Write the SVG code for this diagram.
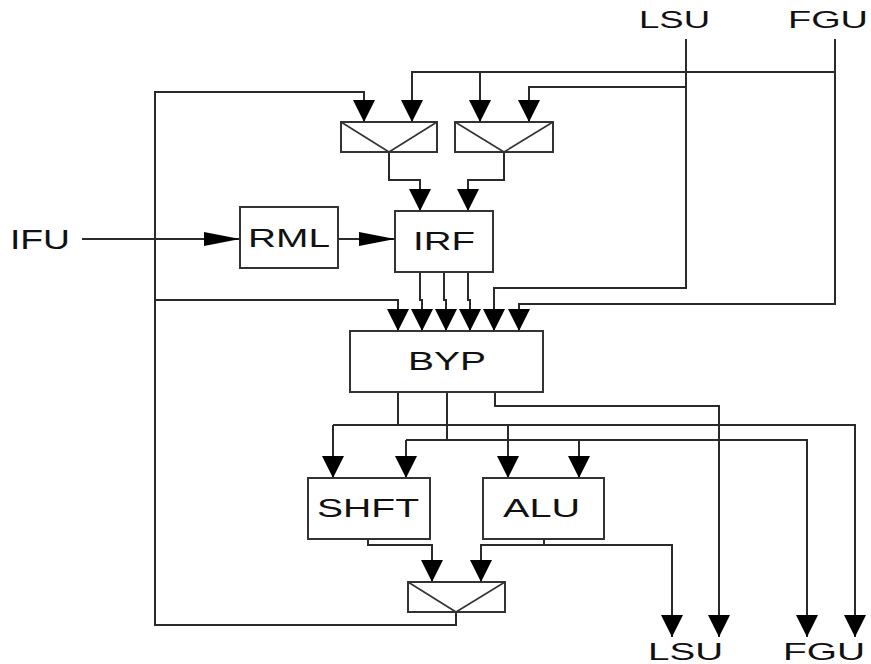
<svg xmlns="http://www.w3.org/2000/svg" width="871" height="664" viewBox="0 0 871 664">
<style>
.box{fill:#fff;stroke:#333;stroke-width:2}
.mx{fill:none;stroke:#333;stroke-width:1.6}
.ln{fill:none;stroke:#2a2a2a;stroke-width:2;stroke-linejoin:miter}
.va{marker-end:url(#v)}
.ha{marker-end:url(#h)}
.t{font-family:"Liberation Sans",Arial,sans-serif;fill:#111}
</style>
<defs>
<marker id="v" markerUnits="userSpaceOnUse" markerWidth="22" markerHeight="22" refX="22" refY="11" orient="auto" viewBox="0 0 22 22"><path d="M0,0 L22,11 L0,22 z" fill="#000"/></marker>
<marker id="h" markerUnits="userSpaceOnUse" markerWidth="36" markerHeight="14" refX="36" refY="7" orient="auto" viewBox="0 0 36 14"><path d="M0,0 L36,7 L0,14 z" fill="#000"/></marker>
</defs>
<rect width="871" height="664" fill="#fff"/>
<g id="connectors">
<path class="ln" d="M456,612 V625 H155 V92 H364 V122" style="marker-end:url(#v)"/>
<path class="ln va" d="M155,300 H398 V331"/>
<path class="ln va" d="M835,39 V304 H519 V331"/>
<path class="ln va" d="M835,72 H412 V122"/>
<path class="ln va" d="M480,72 V122"/>
<path class="ln va" d="M686,39 V288 H494 V331"/>
<path class="ln va" d="M686,87 H529 V122"/>
<path class="ln va" d="M389,152 V180 H420 V211"/>
<path class="ln va" d="M504,152 V180 H468 V211"/>
<path class="ln ha" d="M82,239 H240"/>
<path class="ln ha" d="M338,239 H395"/>
<path class="ln va" d="M420,272 V300 H422 V331"/>
<path class="ln va" d="M444,272 V300 H446 V331"/>
<path class="ln va" d="M468,272 V300 H470 V331"/>
<path class="ln" d="M398,392 V425"/>
<path class="ln va" d="M333,425 H855 V637"/>
<path class="ln va" d="M333,425 V478"/>
<path class="ln va" d="M508,425 V478"/>
<path class="ln" d="M447,392 V440"/>
<path class="ln va" d="M406,440 H807 V637"/>
<path class="ln va" d="M406,440 V478"/>
<path class="ln va" d="M579,440 V478"/>
<path class="ln va" d="M495,392 V406 H719 V637"/>
<path class="ln va" d="M368,539 V545 H432 V582"/>
<path class="ln va" d="M544,539 V545 H481 V582"/>
<path class="ln va" d="M544,545 H672 V637"/>
</g>
<g id="mux1"><rect class="box" x="341" y="122" width="96" height="30"/><path class="mx" d="M341,122 L389,152 L437,122"/></g>
<g id="mux2"><rect class="box" x="455" y="122" width="98" height="30"/><path class="mx" d="M455,122 L504,152 L553,122"/></g>
<g id="mux3"><rect class="box" x="408" y="582" width="97" height="30"/><path class="mx" d="M408,582 L456,612 L505,582"/></g>
<g id="rml"><rect class="box" x="240" y="207" width="98" height="61"/><text class="t" x="248" y="247" font-size="26" textLength="82" lengthAdjust="spacingAndGlyphs">RML</text></g>
<g id="irf"><rect class="box" x="395" y="211" width="98" height="61"/><text class="t" x="413" y="250" font-size="26" textLength="62" lengthAdjust="spacingAndGlyphs">IRF</text></g>
<g id="byp"><rect class="box" x="350" y="331" width="193" height="61"/><text class="t" x="408" y="370" font-size="26" textLength="78" lengthAdjust="spacingAndGlyphs">BYP</text></g>
<g id="shft"><rect class="box" x="308" y="478" width="122" height="61"/><text class="t" x="317" y="517" font-size="26" textLength="102" lengthAdjust="spacingAndGlyphs">SHFT</text></g>
<g id="alu"><rect class="box" x="483" y="478" width="121" height="61"/><text class="t" x="503" y="517" font-size="26" textLength="77" lengthAdjust="spacingAndGlyphs">ALU</text></g>
<g id="ifu"><text class="t" x="10" y="249" font-size="27" textLength="60" lengthAdjust="spacingAndGlyphs">IFU</text></g>
<g id="lsu_in"><text class="t" x="639" y="28" font-size="24" textLength="71" lengthAdjust="spacingAndGlyphs">LSU</text></g>
<g id="fgu_in"><text class="t" x="788" y="28" font-size="24" textLength="80" lengthAdjust="spacingAndGlyphs">FGU</text></g>
<g id="lsu_out"><text class="t" x="648" y="660" font-size="24" textLength="75" lengthAdjust="spacingAndGlyphs">LSU</text></g>
<g id="fgu_out"><text class="t" x="783" y="660" font-size="24" textLength="82" lengthAdjust="spacingAndGlyphs">FGU</text></g>
</svg>
